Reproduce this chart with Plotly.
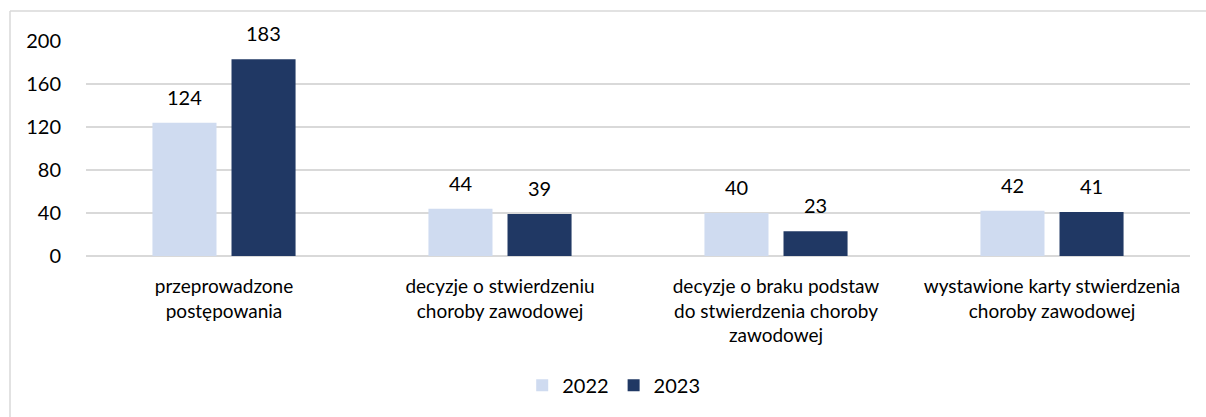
import plotly.graph_objects as go

categories = [
    "przeprowadzone<br>postępowania",
    "decyzje o stwierdzeniu<br>choroby zawodowej",
    "decyzje o braku podstaw<br>do stwierdzenia choroby<br>zawodowej",
    "wystawione karty stwierdzenia<br>choroby zawodowej",
]
values_2022 = [124, 44, 40, 42]
values_2023 = [183, 39, 23, 41]
y_ticks = [0, 40, 80, 120, 160, 200]

color_2022 = "#cfdbf0"
color_2023 = "#203864"
font_family = "Lato, 'Open Sans', sans-serif"

fig = go.Figure()
fig.add_trace(go.Bar(name="2022", x=categories, y=values_2022,
                     marker=dict(color=color_2022, line=dict(width=0))))
fig.add_trace(go.Bar(name="2023", x=categories, y=values_2023,
                     marker=dict(color=color_2023, line=dict(width=0))))

# value labels above each bar
annotations = []
for offset, vals in ((-0.5, values_2022), (0.5, values_2023)):
    for i, v in enumerate(vals):
        annotations.append(dict(
            x=i + offset * 0.286, y=v, xref="x", yref="y",
            text=str(v), showarrow=False, yanchor="bottom", yshift=12,
            font=dict(family=font_family, size=20, color="#000000"),
        ))

W, H = 1206, 417
ml, mr, mt, mb = 86, 16, 41, 161
pw, ph = W - ml - mr, H - mt - mb

# light grey frame around the chart (left and top edges visible)
frame_x0 = (10 - ml) / pw
frame_y1 = 1 + (mt - 11) / ph
shapes = [
    dict(type="line", xref="paper", yref="paper", x0=frame_x0, x1=frame_x0,
         y0=-mb / ph - 0.05, y1=frame_y1, line=dict(color="#d9d9d9", width=1.5)),
    dict(type="line", xref="paper", yref="paper", x0=frame_x0, x1=1 + mr / ph,
         y0=frame_y1, y1=frame_y1, line=dict(color="#d9d9d9", width=1.5)),
]

fig.update_layout(
    width=W, height=H,
    margin=dict(l=ml, r=mr, t=mt, b=mb, autoexpand=False),
    paper_bgcolor="white", plot_bgcolor="white",
    barmode="group", bargap=0.427, bargroupgap=0.19,
    font=dict(family=font_family, size=20, color="#000000"),
    showlegend=True,
    legend=dict(orientation="h", x=0.478, xanchor="center", y=-0.51, yanchor="top",
                font=dict(family=font_family, size=20), itemwidth=30,
                traceorder="normal"),
    annotations=annotations,
    shapes=shapes,
)
fig.update_xaxes(type="category", showline=False, ticks="", showgrid=False,
                 automargin=False,
                 tickfont=dict(family=font_family, size=19), ticklabelstandoff=17)
fig.update_yaxes(range=[0, 200], tickvals=y_ticks, showgrid=True,
                 automargin=False,
                 gridcolor="#d9d9d9", gridwidth=1.5, zeroline=True,
                 zerolinecolor="#d9d9d9", zerolinewidth=1.5, showline=False,
                 ticks="", tickfont=dict(family=font_family, size=20),
                 ticklabelstandoff=24)

fig.write_html("out.html")
